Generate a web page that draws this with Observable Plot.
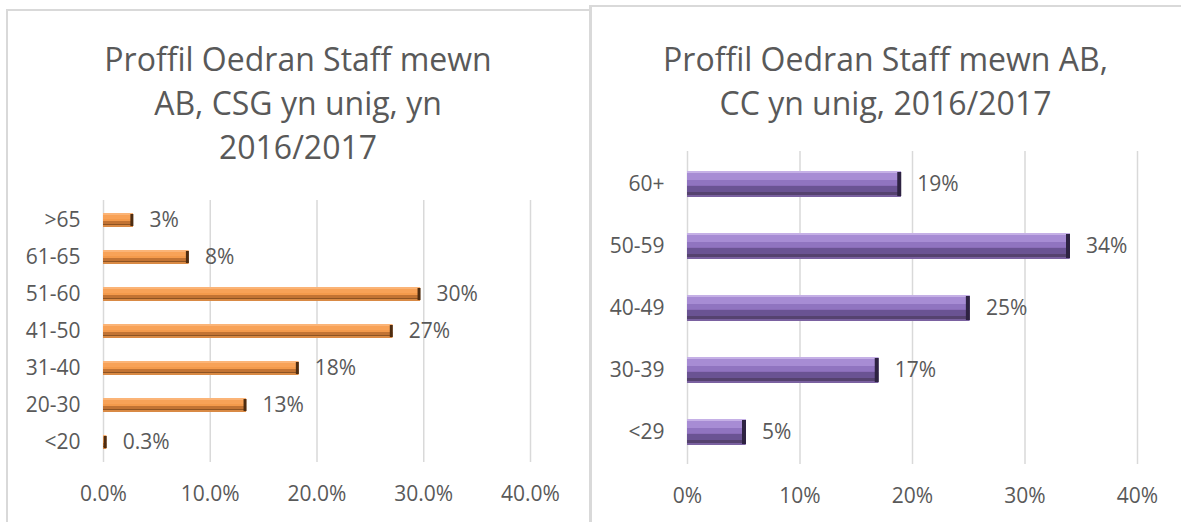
<!DOCTYPE html>
<html>
<head>
<meta charset="utf-8">
<script src="https://cdn.jsdelivr.net/npm/d3@7"></script>
<script src="https://cdn.jsdelivr.net/npm/@observablehq/plot@0.6"></script>
<style>
  html, body { margin: 0; padding: 0; background: #fff; width: 1181px; height: 522px; overflow: hidden; }
  .panel { position: absolute; box-sizing: border-box; border: 2px solid #d9d9d9; background: #fff; }
  .title { position: absolute; text-align: center; font-family: "Open Sans", sans-serif; color: #595959; font-size: 32px; line-height: 44px; white-space: nowrap; }
  .chart { position: absolute; }
  .chart svg { overflow: visible; background: transparent; }
</style>
</head>
<body>
<div class="panel" style="left:6px; top:9px; width:585px; height:530px;"></div>
<div class="panel" style="left:589px; top:5px; width:600px; height:530px; border-left-width:3px;"></div>
<div class="title" id="t1" style="left:7px; top:37px; width:582px;"></div>
<div class="title" id="t2" style="left:590px; top:37px; width:591px;"></div>
<div class="chart" id="c1" style="left:7px; top:180px;"></div>
<div class="chart" id="c2" style="left:590px; top:130px;"></div>
<script>
// ---- Data ----
const leftTitleLines = ["Proffil Oedran Staff mewn", "AB, CSG yn unig, yn", "2016/2017"];
const leftCategories = [">65", "61-65", "51-60", "41-50", "31-40", "20-30", "<20"];
const leftValues = [2.8, 8.0, 29.7, 27.1, 18.3, 13.4, 0.3];
const leftLabels = ["3%", "8%", "30%", "27%", "18%", "13%", "0.3%"];
const leftTicks = [0, 10, 20, 30, 40];

const rightTitleLines = ["Proffil Oedran Staff mewn AB,", "CC yn unig, 2016/2017"];
const rightCategories = ["60+", "50-59", "40-49", "30-39", "<29"];
const rightValues = [19.0, 34.0, 25.1, 17.0, 5.2];
const rightLabels = ["19%", "34%", "25%", "17%", "5%"];
const rightTicks = [0, 10, 20, 30, 40];

document.getElementById("t1").innerHTML = leftTitleLines.join("<br>");
document.getElementById("t2").innerHTML = rightTitleLines.join("<br>");

const leftData = leftCategories.map((c, i) => ({cat: c, v: leftValues[i], label: leftLabels[i]}));
const rightData = rightCategories.map((c, i) => ({cat: c, v: rightValues[i], label: rightLabels[i]}));

const font = {fontFamily: "Open Sans, sans-serif", fontSize: "21px"};
const textColor = "#595959";

function bevelBars(data, h, c) {
  const base = {x: "v", y: "cat"};
  const out = [Plot.barX(data, {...base, fill: c.mid})];
  for (const s of c.stripes) {
    out.push(Plot.barX(data, {...base, fill: s.fill, insetTop: s.from, insetBottom: h - s.to}));
  }
  return out;
}

function chart(el, data, categories, ticks, fmt, opts) {
  const band = opts.bandH;
  const h = opts.barH;
  const pad = 1 - h / band;
  const svg = Plot.plot({
    width: opts.width,
    height: opts.height,
    marginLeft: opts.ml,
    marginRight: opts.mr,
    marginTop: opts.mt,
    marginBottom: opts.mb,
    style: {...font, color: textColor, background: "transparent"},
    x: {domain: [0, 40], label: null},
    y: {domain: categories, paddingInner: pad, paddingOuter: pad / 2, label: null},
    marks: [
      Plot.gridX(ticks, {stroke: "#d9d9d9", strokeOpacity: 1, strokeWidth: 1.5}),
      Plot.axisX(ticks, {tickSize: 0, tickPadding: 24, tickFormat: fmt, fill: textColor, fontSize: 21, label: null}),
      Plot.axisY({tickSize: 0, tickPadding: 23, fill: textColor, fontSize: 21, label: null}),
      ...bevelBars(data, h, opts.colors),
      Plot.tickX(data, {x: "v", y: "cat", stroke: opts.colors.endCap, strokeWidth: opts.colors.endW, dx: -opts.colors.endW / 2, insetTop: 1, insetBottom: 1}),
      Plot.text(data, {x: "v", y: "cat", text: "label", dx: 16, textAnchor: "start", fill: textColor, fontSize: 21})
    ]
  });
  document.getElementById(el).appendChild(svg);
}

const orange = {
  mid: "#F49A4B",
  stripes: [
    {fill: "#FBB477", from: 0, to: 2},
    {fill: "#F8A257", from: 2, to: 6},
    {fill: "#C27333", from: 8, to: 11},
    {fill: "#8E5322", from: 11, to: 12},
    {fill: "#D98A45", from: 12, to: 14}
  ],
  endCap: "#4E2C10", endW: 3
};
const purple = {
  mid: "#8A6CB8",
  stripes: [
    {fill: "#C5B0E6", from: 0, to: 2},
    {fill: "#A78CD4", from: 2, to: 9},
    {fill: "#9074C0", from: 9, to: 14},
    {fill: "#6A5393", from: 15, to: 21},
    {fill: "#55426F", from: 21, to: 24},
    {fill: "#7A61A0", from: 24, to: 26}
  ],
  endCap: "#2E2342", endW: 4
};

// Left chart: plot area x 103..530, y 200..462
chart("c1", leftData, leftCategories, leftTicks, d => d.toFixed(1) + "%", {
  width: 582, height: 342, ml: 96, mr: 59, mt: 20, mb: 60,
  bandH: 262 / 7, barH: 14, colors: orange
});
// Right chart: plot area x 687..1137, y 151..464
chart("c2", rightData, rightCategories, rightTicks, d => d.toFixed(0) + "%", {
  width: 591, height: 392, ml: 97, mr: 44, mt: 21, mb: 58,
  bandH: 313 / 5, barH: 26, colors: purple
});
</script>
</body>
</html>
